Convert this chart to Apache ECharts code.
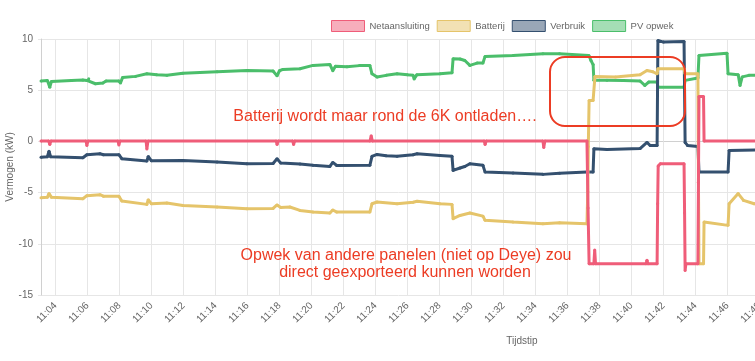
<!DOCTYPE html>
<html>
<head>
<meta charset="utf-8">
<script src="https://cdn.jsdelivr.net/npm/echarts@6/dist/echarts.min.js"></script>
<style>
html,body{margin:0;padding:0;background:#fff;}
#chart{width:755px;height:361px;}
</style>
</head>
<body>
<div id="chart"></div>
<script>
// ---- data (times are hh:mm:ss, values in kW) ----
const seriesNames = ['Netaansluiting', 'Batterij', 'Verbruik', 'PV opwek'];

const netTimes = ['11:03:06','11:03:35','11:03:39','11:03:43','11:05:55','11:05:58','11:06:02','11:07:55','11:07:58','11:08:02',
  '11:09:40','11:09:43','11:09:47','11:17:48','11:17:51','11:17:55','11:18:50','11:18:53','11:18:57','11:23:40','11:23:44','11:23:48',
  '11:30:48','11:30:51','11:30:55','11:34:28','11:34:31','11:34:35','11:37:13','11:37:17','11:37:21','11:37:39','11:37:42','11:37:45',
  '11:40:55','11:40:58','11:41:01','11:41:36','11:41:38','11:41:40','11:41:48','11:43:17','11:43:19','11:43:21','11:43:24',
  '11:44:09','11:44:11','11:44:13','11:44:30','11:44:32','11:49:00'];
const netValues = [0.05,0.05,-0.3,0.05,0.05,-0.4,0.05,0.05,-0.35,0.05,
  0.05,-0.75,0.05,0.05,-0.3,0.05,0.05,-0.3,0.05,0.05,0.55,0.05,
  0.05,-0.3,0.05,0.05,-0.6,0.05,0.05,-6.5,-11.94,-11.94,-10.6,-11.94,
  -11.94,-11.6,-11.94,-11.94,-6.1,-2.4,-2.18,-2.18,-7.0,-12.6,-11.94,
  -11.94,-4.0,4.39,4.39,0.05,0.05];

const batTimes = ['11:03:06','11:03:30','11:03:36','11:03:45','11:05:43','11:05:58','11:06:47','11:07:00','11:07:58','11:08:09',
  '11:09:43','11:09:48','11:10:00','11:10:58','11:11:58','11:14:06','11:15:58','11:17:36','11:17:51','11:18:05','11:18:39','11:19:17',
  '11:20:06','11:21:09','11:21:20','11:21:35','11:23:39','11:23:47','11:24:06','11:25:21','11:26:21','11:26:36','11:28:02','11:28:47',
  '11:28:51','11:29:17','11:29:54','11:30:43','11:30:51','11:32:36','11:34:28','11:35:30','11:37:13','11:37:16','11:37:18','11:37:21',
  '11:37:36','11:37:43','11:39:00','11:40:32','11:40:58','11:41:20','11:41:36','11:41:39','11:43:17','11:43:21','11:44:09',
  '11:44:11','11:44:13','11:44:30','11:44:32','11:46:02','11:46:06','11:46:40','11:47:00','11:47:40','11:49:00'];
const batValues = [-5.5,-5.45,-5.1,-5.45,-5.6,-5.3,-5.2,-5.35,-5.35,-5.83,
  -6.15,-5.7,-6.1,-6.02,-6.25,-6.41,-6.58,-6.55,-6.2,-6.45,-6.41,-6.74,
  -6.9,-7.0,-6.7,-6.9,-6.9,-6.09,-5.92,-6.09,-5.95,-5.85,-6.09,-6.15,
  -7.55,-7.23,-7.0,-7.3,-7.71,-7.88,-8.04,-7.95,-8.04,-4.9,-0.5,4.0,
  4.0,6.35,6.3,6.5,6.93,6.8,6.6,7.1,7.1,6.6,6.6,
  -4.0,-11.94,-11.94,-7.88,-8.2,-6.09,-5.1,-5.76,-6.09,-6.1];

const verTimes = ['11:03:06','11:03:30','11:03:36','11:03:42','11:05:43','11:05:58','11:06:47','11:07:00','11:07:58','11:08:09',
  '11:09:43','11:09:48','11:10:00','11:11:58','11:14:06','11:15:58','11:17:36','11:17:51','11:18:05','11:19:17','11:20:06','11:21:09',
  '11:21:20','11:21:35','11:23:39','11:23:47','11:24:06','11:24:40','11:25:21','11:26:21','11:26:36','11:28:02','11:28:47','11:28:51',
  '11:29:17','11:29:35','11:29:54','11:30:43','11:30:51','11:32:36','11:34:28','11:35:30','11:37:13','11:37:36','11:37:39','11:38:28',
  '11:40:32','11:40:58','11:41:10','11:41:36','11:41:39','11:42:00','11:43:17','11:43:21','11:43:30','11:44:09','11:44:13',
  '11:46:02','11:46:06','11:49:00'];
const verValues = [-1.55,-1.5,-0.95,-1.5,-1.6,-1.3,-1.2,-1.3,-1.3,-1.69,
  -1.92,-1.47,-1.9,-1.86,-2.02,-2.18,-2.15,-1.69,-2.12,-2.2,-2.34,-2.44,
  -2.05,-2.35,-2.34,-1.46,-1.27,-1.4,-1.46,-1.3,-1.2,-1.37,-1.46,-2.83,
  -2.6,-2.45,-2.18,-2.34,-3.0,-3.09,-3.22,-3.1,-3.0,-3.0,-0.71,-0.8,
  -0.7,-0.1,-0.4,-0.39,9.86,9.7,9.75,-0.1,-0.39,-0.5,-3.0,
  -3.0,-0.88,-0.8];

const pvTimes = ['11:03:06','11:03:30','11:03:39','11:03:45','11:05:00','11:05:43','11:05:58','11:06:05','11:06:30','11:06:58',
  '11:07:10','11:07:58','11:08:04','11:08:12','11:09:00','11:09:43','11:10:20','11:10:58','11:11:58','11:14:06','11:15:58','11:17:36',
  '11:17:51','11:18:00','11:18:13','11:19:17','11:20:06','11:21:09','11:21:20','11:21:30','11:22:13','11:23:00','11:23:39','11:23:47',
  '11:24:06','11:24:40','11:25:21','11:26:00','11:26:21','11:26:25','11:26:35','11:28:02','11:28:47','11:28:51','11:29:17','11:29:35',
  '11:29:54','11:30:21','11:30:43','11:30:51','11:32:36','11:34:28','11:35:30','11:37:20','11:37:28','11:37:36','11:37:39','11:38:28',
  '11:39:30','11:40:32','11:40:50','11:41:05','11:41:36','11:41:39','11:43:17','11:43:21','11:44:09','11:44:13','11:45:58',
  '11:46:02','11:46:40','11:46:47','11:46:55','11:47:20','11:49:00'];
const pvValues = [5.9,5.95,5.3,5.85,5.95,6.0,5.95,6.12,5.63,5.7,
  5.9,5.9,5.7,6.25,6.35,6.6,6.5,6.45,6.65,6.8,6.92,6.87,
  6.4,6.9,7.03,7.1,7.42,7.52,6.9,7.35,7.3,7.4,7.42,6.6,
  6.28,6.45,6.6,6.5,6.45,6.1,6.5,6.6,6.7,8.07,8.05,7.9,
  7.42,7.65,7.66,8.3,8.4,8.56,8.55,8.4,7.9,7.5,5.96,5.96,
  5.95,5.9,5.47,5.8,5.79,5.3,5.3,5.96,6.2,8.4,8.62,
  6.6,6.5,5.47,6.3,6.45,6.45];

const yTicks = [-15, 10, 5];            // min, max, interval
const xRange = ['11:03:06', '11:48:58'];

// ---- helpers ----
function toMs(t){ const p = t.split(':').map(Number); return new Date(2024,0,1,p[0],p[1],p[2]||0).getTime(); }
function pairs(ts, vs){ return ts.map((t,i)=>[toMs(t), vs[i]]); }

const colors = ['rgb(239,93,121)','rgb(229,196,106)','rgb(52,80,111)','rgb(75,190,107)'];
const fills  = ['rgba(239,93,121,0.5)','rgba(229,196,106,0.5)','rgba(52,80,111,0.5)','rgba(75,190,107,0.5)'];
const allData = [pairs(netTimes,netValues), pairs(batTimes,batValues), pairs(verTimes,verValues), pairs(pvTimes,pvValues)];

const chart = echarts.init(document.getElementById('chart'));
const txt = '#666';
const gridCol = '#e6e6e6';
const annRed = 'rgb(236,60,36)';
const ff = 'Liberation Sans, Arial, sans-serif';

chart.setOption({
  animation: false,
  legend: {
    top: 20, left: 331, padding: 0, itemWidth: 33, itemHeight: 11, itemGap: 7, icon: 'rect',
    textStyle: { color: txt, fontSize: 9.5, fontFamily: ff },
    data: seriesNames.map((n,i)=>({ name: n, itemStyle: { color: fills[i], borderColor: colors[i], borderWidth: 1 } }))
  },
  grid: { left: 41, right: -20, top: 39, bottom: 66, outerBoundsMode: 'none', containLabel: false },
  xAxis: {
    type: 'time',
    min: toMs(xRange[0]), max: toMs(xRange[1]),
    splitNumber: 15, minInterval: 180000, maxInterval: 180000,
    axisLine: { show: true, lineStyle: { color: '#d0d0d0' } },
    axisTick: { show: true, length: 4, lineStyle: { color: gridCol } },
    splitLine: { show: true, lineStyle: { color: gridCol, width: 1 } },
    axisLabel: { rotate: 45, interval: 0, margin: 9, color: txt, fontSize: 10, fontFamily: ff,
      formatter: '{HH}:{mm}', hideOverlap: false }
  },
  yAxis: {
    type: 'value', min: yTicks[0], max: yTicks[1], interval: yTicks[2],
    name: 'Vermogen (kW)', nameLocation: 'middle', nameGap: 26, nameMoveOverlap: false,
    nameTextStyle: { color: txt, fontSize: 10, fontFamily: ff },
    axisLine: { show: true, lineStyle: { color: '#d0d0d0' } },
    axisTick: { show: true, length: 3, lineStyle: { color: gridCol } },
    splitLine: { lineStyle: { color: gridCol, width: 1 } },
    axisLabel: { color: txt, fontSize: 10, margin: 8, fontFamily: ff }
  },
  graphic: [
    { type: 'text', x: 522, y: 341, style: { text: 'Tijdstip', fill: txt, font: '10px ' + ff, align: 'center', verticalAlign: 'middle' } },
    { type: 'text', x: 385, y: 117, z: 100, style: { text: 'Batterij wordt maar rond de 6K ontladen….', fill: annRed, font: '16px ' + ff, align: 'center', verticalAlign: 'middle' } },
    { type: 'text', x: 406, y: 256, z: 100, style: { text: 'Opwek van andere panelen (niet op Deye) zou', fill: annRed, font: '16px ' + ff, align: 'center', verticalAlign: 'middle' } },
    { type: 'text', x: 405, y: 273, z: 100, style: { text: 'direct geexporteerd kunnen worden', fill: annRed, font: '16px ' + ff, align: 'center', verticalAlign: 'middle' } },
    { type: 'rect', z: 100, shape: { x: 550, y: 57, width: 135, height: 69, r: 15 }, style: { fill: 'none', stroke: annRed, lineWidth: 2 } }
  ],
  series: seriesNames.map((n,i)=>({
    name: n, type: 'line', data: allData[i], z: 10 - i,
    showSymbol: true, symbol: 'circle', symbolSize: 3,
    lineStyle: { color: colors[i], width: 3 },
    itemStyle: { color: colors[i] },
    emphasis: { disabled: true }
  }))
});
</script>
</body>
</html>
